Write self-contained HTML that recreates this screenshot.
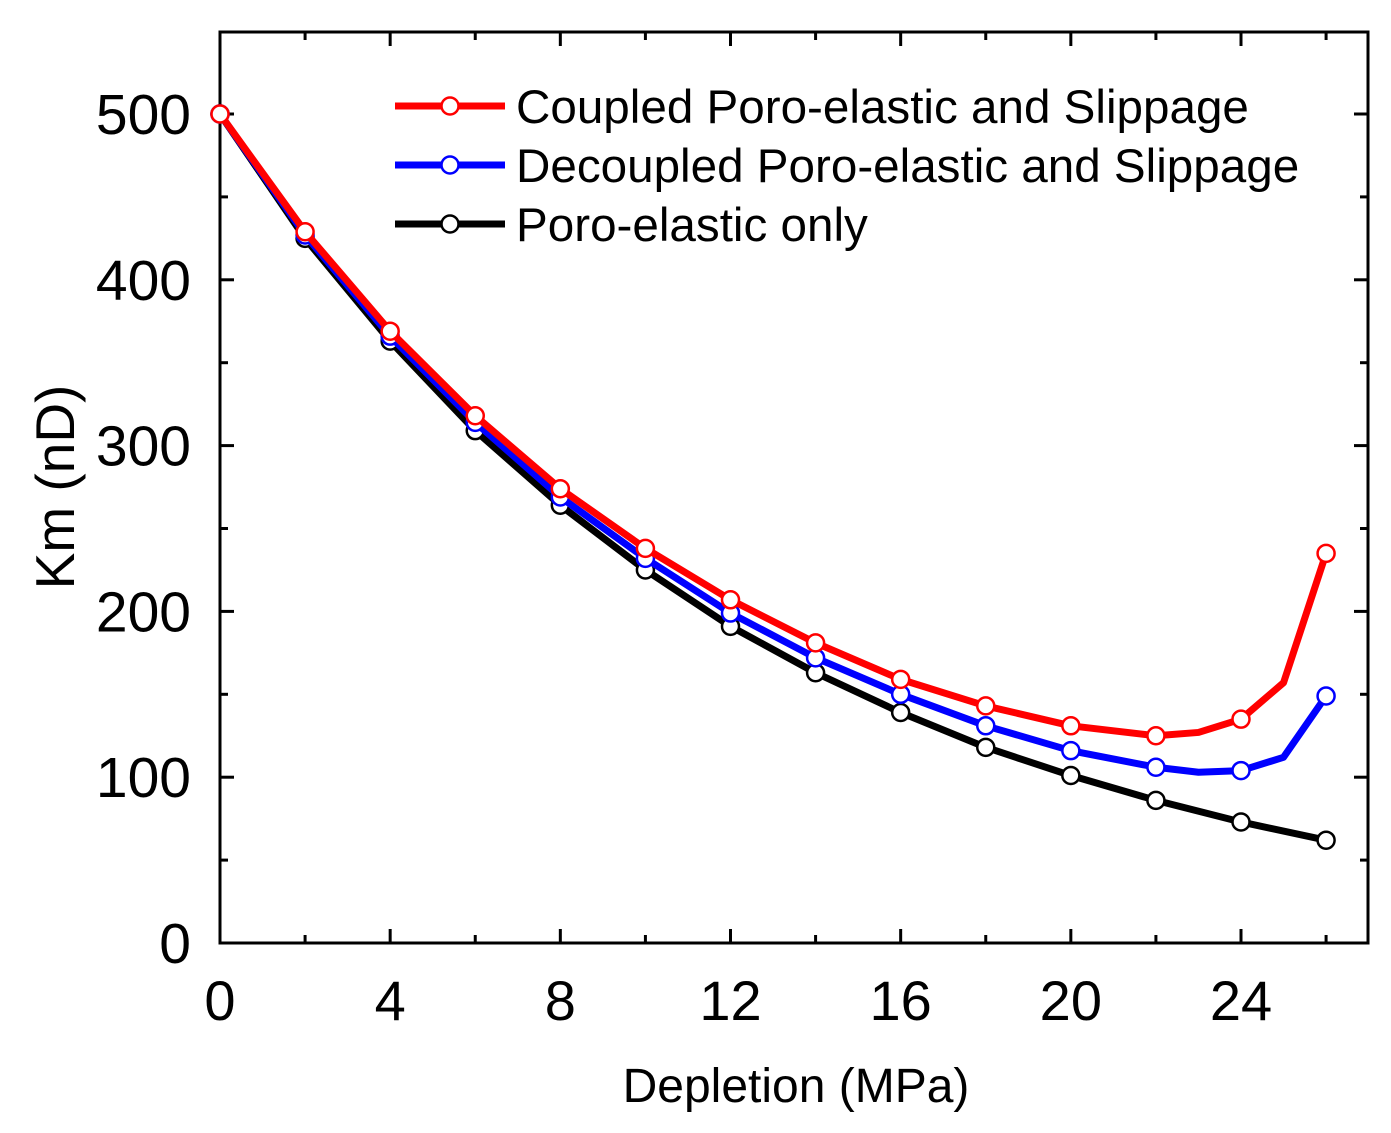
<!DOCTYPE html>
<html><head><meta charset="utf-8"><style>
body{margin:0;background:#fff}
svg text{font-family:"Liberation Sans",Arial,sans-serif}
</style></head><body>
<svg id="chart" width="1391" height="1128" xmlns="http://www.w3.org/2000/svg">
<rect x="220" y="32" width="1148" height="911" fill="none" stroke="#000" stroke-width="3"/>
<g id="ticks"></g>
<g id="series"></g>
<g id="legend"></g>
<text transform="translate(74,487) rotate(-90)" text-anchor="middle" font-size="55">Km (nD)</text>
<text x="796" y="1102" text-anchor="middle" font-size="48">Depletion (MPa)</text>
</svg>
<script>
const xTicks=[0,4,8,12,16,20,24];
const yTicks=[0,100,200,300,400,500];
const seriesNames=["Coupled Poro-elastic and Slippage","Decoupled Poro-elastic and Slippage","Poro-elastic only"];
const seriesColors=["#ff0000","#0000ff","#000000"];
const xRed=[0,2,4,6,8,10,12,14,16,18,20,22,23,24,25,26];
const yRed=[500,429,369,318,274,238,207,181,159,143,131,125,127,135,157,235];
const mRed=[1,1,1,1,1,1,1,1,1,1,1,1,0,1,0,1];
const xBlue=[0,2,4,6,8,10,12,14,16,18,20,22,23,24,25,26];
const yBlue=[500,427,366,314,269,232,199,172,150,131,116,106,103,104,112,149];
const mBlue=[1,1,1,1,1,1,1,1,1,1,1,1,0,1,0,1];
const xBlack=[0,2,4,6,8,10,12,14,16,18,20,22,24,26];
const yBlack=[500,425,363,309,264,225,191,163,139,118,101,86,73,62];
const mBlack=[1,1,1,1,1,1,1,1,1,1,1,1,1,1];

const NS="http://www.w3.org/2000/svg";
const sx=v=>220+v*(1241-220)/24;
const sy=v=>943-v*(943-114)/500;
function mk(tag,attrs,parent){const e=document.createElementNS(NS,tag);for(const k in attrs)e.setAttribute(k,attrs[k]);parent.appendChild(e);return e;}
const T=document.getElementById('ticks');
for(let v=0;v<=26;v+=2){
  const big=v%4===0, L=big?14:8, x=sx(v);
  let t=mk('line',{x1:x,x2:x,y1:943,y2:943-L,stroke:'#000','stroke-width':3},T);
  
  t=mk('line',{x1:x,x2:x,y1:32,y2:32+L,stroke:'#000','stroke-width':3},T);
  
}
xTicks.forEach(v=>{const t=mk('text',{x:sx(v),y:1020,'text-anchor':'middle','font-size':56},T);t.textContent=v;
  });
for(let v=0;v<=540;v+=50){
  const big=v%100===0, L=big?14:8, y=sy(v);
  let t=mk('line',{x1:220,x2:220+L,y1:y,y2:y,stroke:'#000','stroke-width':3},T);
  
  t=mk('line',{x1:1368,x2:1368-L,y1:y,y2:y,stroke:'#000','stroke-width':3},T);
  
}
yTicks.forEach(v=>{const t=mk('text',{x:191,y:sy(v)+20,'text-anchor':'end','font-size':57},T);t.textContent=v;
  });
const S=document.getElementById('series');
const data=[[xRed,yRed,mRed],[xBlue,yBlue,mBlue],[xBlack,yBlack,mBlack]];
const order=[2,1,0];
order.forEach(i=>{
  const [xs,ys,ms]=data[i];
  const g=mk('g',{},S);
  
  
  const p=mk('polyline',{points:xs.map((x,j)=>sx(x)+','+sy(ys[j])).join(' '),fill:'none',stroke:seriesColors[i],'stroke-width':7,'stroke-linejoin':'round'},g);
  
  xs.forEach((x,j)=>{if(!ms[j])return;
    const c=mk('circle',{cx:sx(x),cy:sy(ys[j]),r:8.5,fill:'#fff',stroke:seriesColors[i],'stroke-width':2.5},g);
    });
});
const Lg=document.getElementById('legend');
seriesNames.forEach((n,i)=>{
  const y=106+i*59;
  const g=mk('g',{},Lg);
  
  mk('line',{x1:395,x2:505,y1:y,y2:y,stroke:seriesColors[i],'stroke-width':7},g);
  mk('circle',{cx:450,cy:y,r:8.5,fill:'#fff',stroke:seriesColors[i],'stroke-width':2.5},g);
  const t=mk('text',{x:516,y:y+17,'font-size':47.6},g);t.textContent=n;
});
</script>
</body></html>
